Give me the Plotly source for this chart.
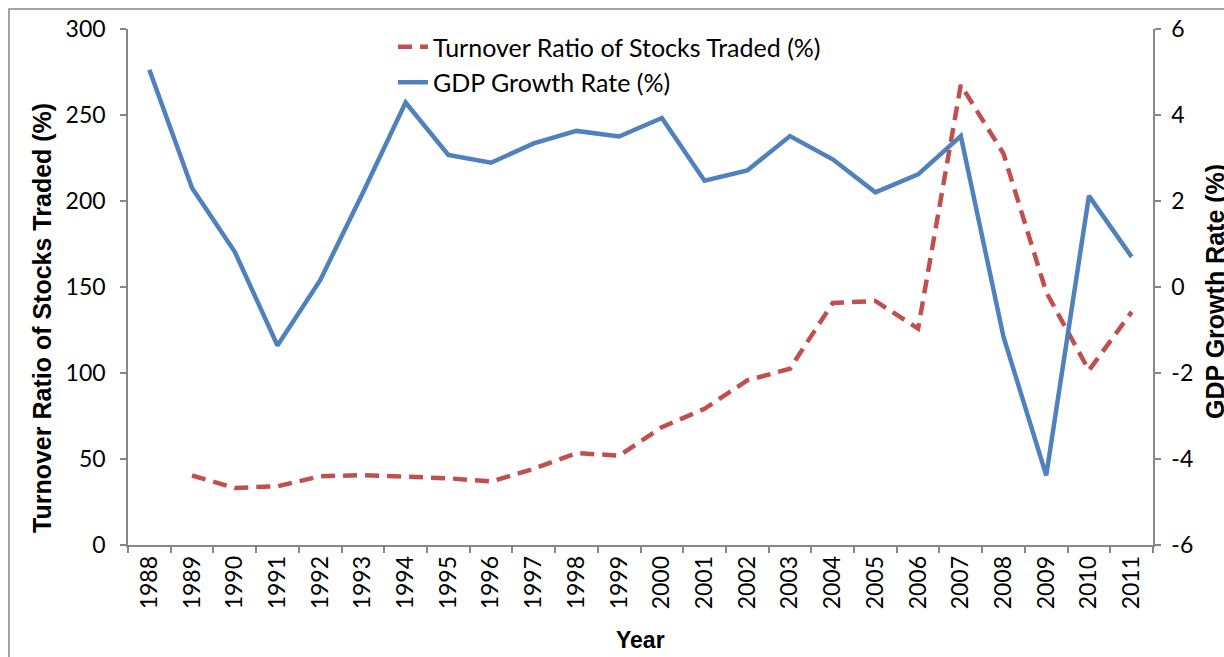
import plotly.graph_objects as go

years = [str(y) for y in range(1988, 2012)]
turnover = [None, 40.4, 33.2, 34.1, 40.0, 40.6, 39.4, 38.8, 36.9, 44.3, 53.4, 52.0,
            68.5, 79.2, 95.7, 102.5, 140.7, 141.9, 125.8, 267.5, 227.5, 147.0, 101.5, 135.5]
gdp = [5.05, 2.30, 0.82, -1.36, 0.16, 2.19, 4.29, 3.07, 2.89, 3.34, 3.63, 3.50,
       3.93, 2.47, 2.71, 3.51, 2.97, 2.20, 2.62, 3.51, -1.16, -4.38, 2.12, 0.70]

left_ticks = [0, 50, 100, 150, 200, 250, 300]
right_ticks = [-6, -4, -2, 0, 2, 4, 6]
right_labels = ["-6", "-4", "-2", "0", "2", "4", "6"]

W, H = 1224, 657
L, R, T, B = 128, 1153, 29, 545

def px(x):
    return (x - L) / (R - L)

def py(y):
    return (B - y) / (B - T)

tick_font = dict(family="Lato, Calibri, sans-serif", size=23, color="#000000")
axis_col = "#868686"

fig = go.Figure()
fig.add_trace(go.Scatter(
    x=years, y=turnover, name="Turnover Ratio of Stocks Traded (%)",
    mode="lines", line=dict(color="#C0504D", width=4.5, dash="14px,8px"),
    yaxis="y", connectgaps=False))
fig.add_trace(go.Scatter(
    x=years, y=gdp, name="GDP Growth Rate (%)",
    mode="lines", line=dict(color="#4F81BD", width=4.5),
    yaxis="y2"))

fig.update_layout(
    width=W, height=H,
    margin=dict(l=L, r=W - R, t=T, b=H - B, pad=0),
    paper_bgcolor="white", plot_bgcolor="white",
    showlegend=True,
    legend=dict(x=px(393), y=py(24), xanchor="left", yanchor="top",
                font=dict(family="Lato, Calibri, sans-serif", size=25, color="#000"),
                bgcolor="rgba(0,0,0,0)", tracegroupgap=0),
    xaxis=dict(type="category", range=[-0.5, 23.5], tickmode="array",
               tickvals=years, ticktext=years, tickangle=-90,
               tickson="boundaries", ticks="outside", ticklen=6, tickcolor=axis_col,
               tickwidth=1.5,
               showline=True, linecolor=axis_col, linewidth=1.5, showgrid=False,
               zeroline=False, tickfont=tick_font),
    yaxis=dict(range=[0, 300], tickvals=left_ticks, ticks="outside", ticklen=6,
               tickcolor=axis_col, tickwidth=1.5, showline=True, linecolor=axis_col,
               linewidth=1.5, showgrid=False, zeroline=False, tickfont=tick_font,
               ticklabelstandoff=10),
    yaxis2=dict(range=[-6, 6], tickvals=right_ticks, ticktext=right_labels,
                overlaying="y", side="right",
                ticks="outside", ticklen=6, tickcolor=axis_col, tickwidth=1.5,
                showline=True, linecolor=axis_col, linewidth=1.5, showgrid=False,
                zeroline=False, tickfont=tick_font, ticklabelstandoff=6),
    shapes=[dict(type="rect", xref="paper", yref="paper",
                 x0=px(9), x1=px(1240), y0=py(680), y1=py(9),
                 line=dict(color=axis_col, width=1.5), fillcolor="rgba(0,0,0,0)",
                 layer="below")],
    annotations=[
        dict(text="Turnover Ratio of Stocks Traded (%)", xref="paper", yref="paper",
             x=px(42), y=py(318), xanchor="center", yanchor="middle", textangle=-90,
             showarrow=False,
             font=dict(family="Liberation Sans, Arial", size=25, color="#000", weight="bold")),
        dict(text="GDP Growth Rate (%)", xref="paper", yref="paper",
             x=px(1215), y=py(292), xanchor="center", yanchor="middle", textangle=-90,
             showarrow=False,
             font=dict(family="Liberation Sans, Arial", size=25, color="#000", weight="bold")),
        dict(text="Year", xref="paper", yref="paper",
             x=px(640), y=py(640), xanchor="center", yanchor="middle",
             showarrow=False,
             font=dict(family="Liberation Sans, Arial", size=23, color="#000", weight="bold")),
    ],
)

fig.write_html("out.html", config={"displayModeBar": False},
               post_script="document.body.style.margin='0';")
